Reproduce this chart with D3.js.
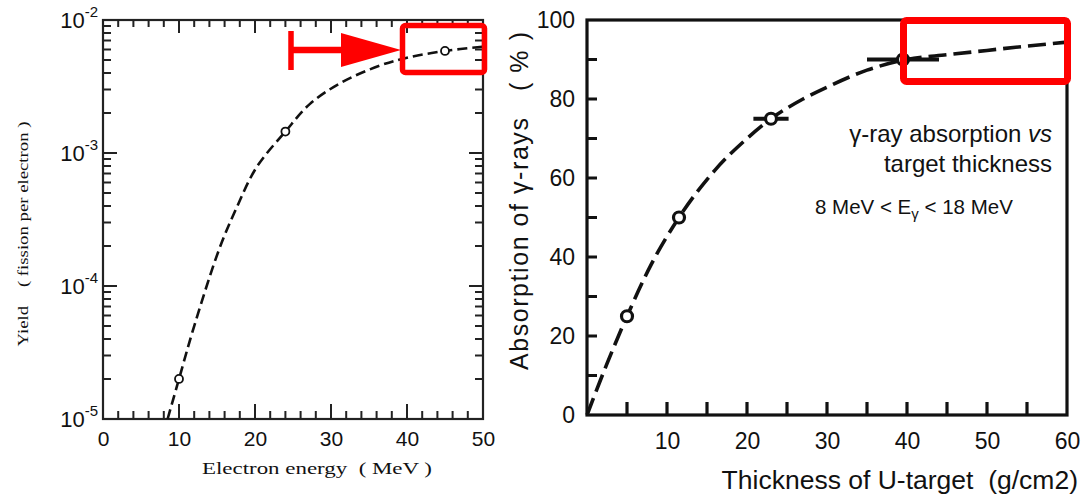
<!DOCTYPE html>
<html>
<head>
<meta charset="utf-8">
<script src="https://cdn.jsdelivr.net/npm/d3@7"></script>
<style>
body{margin:0;background:#fff;}
svg{display:block;}
text{font-family:"Liberation Sans",Arial,sans-serif;fill:#111;}
.serif{font-family:"Liberation Serif","Times New Roman",serif;}
</style>
</head>
<body>
<svg id="chart" width="1090" height="497"></svg>
<script>
// left panel: fission yield vs electron energy (log scale)
var yieldCurveE = [8.5, 10, 12, 15.3, 17.6, 20.2, 24, 27.2, 31.5, 36.7, 40, 45, 50];
var yieldCurveV = [1.0e-5, 2.0e-5, 5.0e-5, 1.9e-4, 3.9e-4, 7.8e-4, 1.45e-3, 2.33e-3, 3.42e-3, 4.6e-3, 5.2e-3, 5.85e-3, 6.3e-3];
var yieldPtsE = [10, 24, 45];
var yieldPtsV = [2.0e-5, 1.45e-3, 5.85e-3];
var energyTicks = [0, 10, 20, 30, 40, 50];
var yieldDecades = [1e-5, 1e-4, 1e-3, 1e-2];
var yieldExpLabels = ["-5", "-4", "-3", "-2"];

// right panel: absorption vs U-target thickness
var absCurveT = [0, 2.5, 5, 8, 11.5, 16, 20, 23, 27, 30, 35, 40, 45, 50, 55, 60];
var absCurveA = [0, 13, 25, 38, 50, 62, 70, 75, 80, 83, 87.3, 90, 91.2, 92.3, 93.4, 94.4];
var absPtsT = [5, 11.5, 23, 39.5];
var absPtsA = [25, 50, 75, 90];
var absPtsErr = [0, 0, 2.2, 4.5];
var thickTicks = [5, 10, 15, 20, 25, 30, 35, 40, 45, 50, 55];
var thickLabels = [10, 20, 30, 40, 50, 60];
var absTicks = [10, 20, 30, 40, 50, 60, 70, 80, 90];
var absLabels = [0, 20, 40, 60, 80, 100];

var svg = d3.select("#chart");
var FONT = '"Liberation Sans",Arial,sans-serif';

// inward tick marks along one side of a frame, as one path
function drawTicks(g, vals, scale, side, at, len, w, col) {
    var horiz = (side === "bottom" || side === "top");
    var dir = (side === "bottom" || side === "right") ? -1 : 1;
    var p = d3.path();
    vals.forEach(function(d){
        var v = scale(d);
        if (horiz) { p.moveTo(v, at); p.lineTo(v, at + dir * len); }
        else { p.moveTo(at, v); p.lineTo(at + dir * len, v); }
    });
    g.append("path").attr("d", p.toString())
        .attr("fill", "none").attr("stroke", col).attr("stroke-width", w);
}

function labelAxis(g, axis, tr, size) {
    var ag = g.append("g").attr("transform", tr).call(axis);
    ag.select(".domain").remove();
    ag.selectAll(".tick line").remove();
    ag.attr("font-family", FONT).attr("font-size", size)
        .selectAll("text").attr("fill", "#111");
}

// ---------- left panel ----------
var lx = d3.scaleLinear().domain([0, 50]).range([103, 483]);
var ly = d3.scaleLog().domain([1e-5, 1e-2]).range([419, 20]);
var gL = svg.append("g");

var minorE = d3.range(2, 50, 2).filter(function(d){ return d % 10 !== 0; });
var minorY = [];
yieldDecades.slice(0, 3).forEach(function(dec){
    for (var k = 2; k <= 9; k++) minorY.push(dec * k);
});
var LC = "#222";
drawTicks(gL, energyTicks, lx, "bottom", ly(1e-5), 15, 2, LC);
drawTicks(gL, minorE, lx, "bottom", ly(1e-5), 8, 2, LC);
drawTicks(gL, energyTicks, lx, "top", ly(1e-2), 13, 2, LC);
drawTicks(gL, minorE, lx, "top", ly(1e-2), 7, 2, LC);
drawTicks(gL, yieldDecades, ly, "left", lx(0), 14, 2, LC);
drawTicks(gL, minorY, ly, "left", lx(0), 8, 2, LC);
drawTicks(gL, yieldDecades, ly, "right", lx(50), 14, 2, LC);
drawTicks(gL, minorY, ly, "right", lx(50), 8, 2, LC);

labelAxis(gL, d3.axisBottom(lx).tickValues(energyTicks).tickSize(0).tickPadding(12),
    "translate(0," + ly(1e-5) + ")", 21);

gL.append("rect")
    .attr("x", lx(0)).attr("y", ly(1e-2))
    .attr("width", lx(50) - lx(0)).attr("height", ly(1e-5) - ly(1e-2))
    .attr("fill", "none").attr("stroke", LC).attr("stroke-width", 2.2);

// 10^n labels
var decLab = gL.selectAll(".declab").data(yieldDecades).join("text")
    .attr("class", "declab")
    .attr("x", 98).attr("y", function(d){ return ly(d) + 8; })
    .attr("text-anchor", "end").attr("font-size", 22);
decLab.append("tspan").text("10");
decLab.append("tspan").attr("dy", -11).attr("font-size", 15)
    .text(function(d, i){ return yieldExpLabels[i]; });

gL.append("text").attr("class", "serif")
    .attr("transform", "translate(28,234) rotate(-90)")
    .attr("text-anchor", "middle").attr("font-size", 15)
    .attr("textLength", 225).attr("lengthAdjust", "spacingAndGlyphs")
    .style("white-space", "pre")
    .text("Yield    ( fission per electron )");
gL.append("text").attr("class", "serif")
    .attr("x", 317).attr("y", 474)
    .attr("text-anchor", "middle").attr("font-size", 16)
    .attr("textLength", 230).attr("lengthAdjust", "spacingAndGlyphs")
    .style("white-space", "pre")
    .text("Electron energy  ( MeV )");

var leftLine = d3.line()
    .x(function(d, i){ return lx(yieldCurveE[i]); })
    .y(function(d){ return ly(d); })
    .curve(d3.curveCatmullRom.alpha(0.5));
gL.append("path").datum(yieldCurveV)
    .attr("d", leftLine)
    .attr("fill", "none").attr("stroke", "#111")
    .attr("stroke-width", 2.6).attr("stroke-dasharray", "10,5");
gL.selectAll(".lpt").data(yieldPtsV).join("circle")
    .attr("class", "lpt")
    .attr("cx", function(d, i){ return lx(yieldPtsE[i]); })
    .attr("cy", function(d){ return ly(d); })
    .attr("r", 4).attr("fill", "#fff").attr("stroke", "#111").attr("stroke-width", 1.8);

// ---------- right panel ----------
var rx = d3.scaleLinear().domain([0, 60]).range([587, 1067]);
var ry = d3.scaleLinear().domain([0, 100]).range([415, 20]);
var gR = svg.append("g");

drawTicks(gR, thickTicks, rx, "bottom", ry(0), 13, 3.2, "#111");
drawTicks(gR, absTicks, ry, "left", rx(0), 10, 3.2, "#111");

labelAxis(gR, d3.axisBottom(rx).tickValues(thickLabels).tickSize(0).tickPadding(18),
    "translate(0," + ry(0) + ")", 23);
labelAxis(gR, d3.axisLeft(ry).tickValues(absLabels).tickSize(0).tickPadding(12),
    "translate(" + rx(0) + ",0)", 23);

gR.append("rect")
    .attr("x", rx(0)).attr("y", ry(100))
    .attr("width", rx(60) - rx(0)).attr("height", ry(0) - ry(100))
    .attr("fill", "none").attr("stroke", "#111").attr("stroke-width", 3.2);

gR.append("text")
    .attr("transform", "translate(528,201) rotate(-90)")
    .attr("text-anchor", "middle").attr("font-size", 25)
    .attr("textLength", 338)
    .style("white-space", "pre")
    .text("Absorption of γ-rays   ( % )");
gR.append("text")
    .attr("x", 1078).attr("y", 489)
    .attr("text-anchor", "end").attr("font-size", 26.5)
    .style("white-space", "pre")
    .text("Thickness of U-target  (g/cm2)");

var t1 = gR.append("text").attr("x", 1052).attr("y", 142)
    .attr("text-anchor", "end").attr("font-size", 24);
t1.append("tspan").text("γ-ray absorption ");
t1.append("tspan").attr("font-style", "italic").text("vs");
gR.append("text").attr("x", 1052).attr("y", 172)
    .attr("text-anchor", "end").attr("font-size", 24)
    .text("target thickness");
var t3 = gR.append("text").attr("x", 815).attr("y", 214).attr("font-size", 20.5);
t3.append("tspan").text("8 MeV < E");
t3.append("tspan").attr("dy", 5).attr("font-size", 15).text("γ");
t3.append("tspan").attr("dy", -5).text(" < 18 MeV");

var rightLine = d3.line()
    .x(function(d, i){ return rx(absCurveT[i]); })
    .y(function(d){ return ry(d); })
    .curve(d3.curveMonotoneX);
gR.append("path").datum(absCurveA)
    .attr("d", rightLine)
    .attr("fill", "none").attr("stroke", "#111")
    .attr("stroke-width", 3.6).attr("stroke-dasharray", "18,7");

gR.selectAll(".err").data(absPtsA).join("line")
    .attr("class", "err")
    .attr("x1", function(d, i){ return rx(absPtsT[i] - absPtsErr[i]); })
    .attr("x2", function(d, i){ return rx(absPtsT[i] + absPtsErr[i]); })
    .attr("y1", function(d){ return ry(d); })
    .attr("y2", function(d){ return ry(d); })
    .attr("stroke", "#111").attr("stroke-width", 4);
gR.selectAll(".rpt").data(absPtsA).join("circle")
    .attr("class", "rpt")
    .attr("cx", function(d, i){ return rx(absPtsT[i]); })
    .attr("cy", function(d){ return ry(d); })
    .attr("r", 5.5).attr("fill", "#fff").attr("stroke", "#111").attr("stroke-width", 3.2);

// ---------- red highlights ----------
var red = "#ff0000";
var gH = svg.append("g");
gH.append("rect").attr("x", 402.5).attr("y", 25.5).attr("width", 82).attr("height", 47)
    .attr("rx", 3).attr("fill", "none").attr("stroke", red).attr("stroke-width", 5.5);
gH.append("rect").attr("x", 903.5).attr("y", 20.5).attr("width", 164).attr("height", 61)
    .attr("rx", 3).attr("fill", "none").attr("stroke", red).attr("stroke-width", 7);
gH.append("line").attr("x1", 291).attr("x2", 291).attr("y1", 31).attr("y2", 70)
    .attr("stroke", red).attr("stroke-width", 5.5);
gH.append("line").attr("x1", 291).attr("x2", 346).attr("y1", 50).attr("y2", 50)
    .attr("stroke", red).attr("stroke-width", 6.5);
gH.append("path").attr("d", "M341,33 L401,50 L341,67 Z").attr("fill", red);
</script>
</body>
</html>
